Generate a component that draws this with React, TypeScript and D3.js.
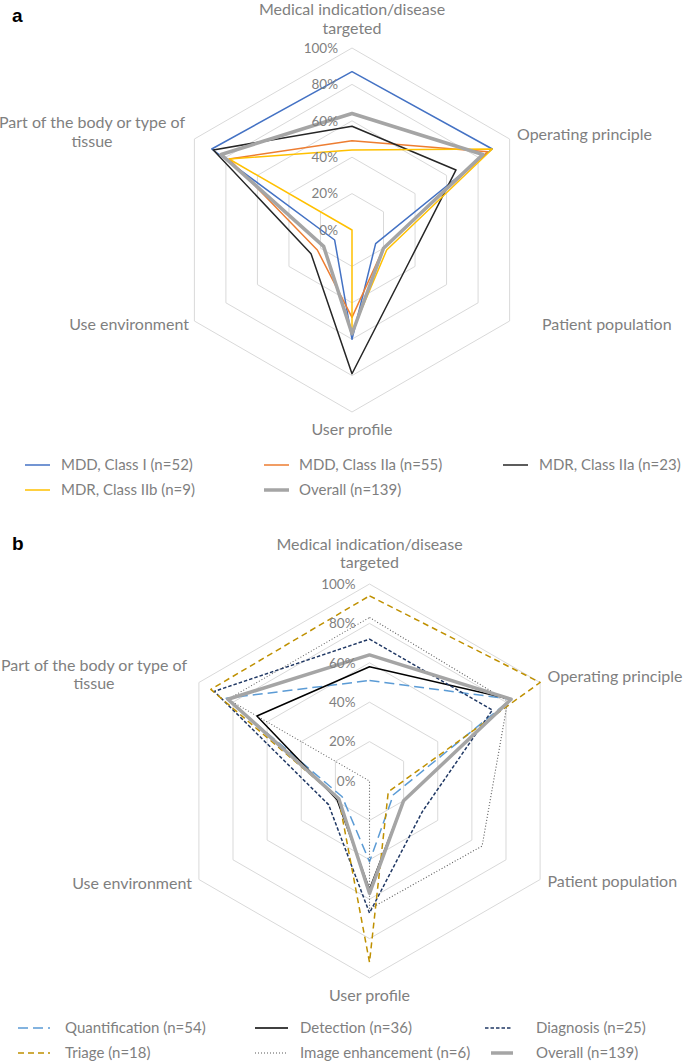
import * as d3 from "d3";

// axes, clockwise from the top
const axisLabels = [
  ["Medical indication/disease", "targeted"],
  ["Operating principle"],
  ["Patient population"],
  ["User profile"],
  ["Use environment"],
  ["Part of the body or type of", "tissue"],
];
const ringTicks = [0, 20, 40, 60, 80, 100];

// panel a — % of devices per axis
const mddClassI = [87, 89, 15, 60, 11, 89];
const mddClassIIa = [49, 86, 20, 48, 22, 78];
const mdrClassIIa = [57, 66, 36, 79, 26, 88];
const mdrClassIIb = [44, 89, 22, 56, 0, 78];
const overall = [64, 83, 20, 57, 18, 83];

// panel b
const quantification = [51, 83, 14, 41, 16, 84];
const detection = [58, 83, 20, 55, 19, 66];
const diagnosis = [72, 72, 31, 67, 24, 91];
const triage = [94, 100, 11, 92, 18, 93];
const imageEnhancement = [83, 81, 66, 65, 0, 83];

const namesA = [
  "MDD, Class I (n=52)",
  "MDD, Class IIa (n=55)",
  "MDR, Class IIa (n=23)",
  "MDR, Class IIb (n=9)",
  "Overall (n=139)",
];
const namesB = [
  "Quantification (n=54)",
  "Detection (n=36)",
  "Diagnosis (n=25)",
  "Triage (n=18)",
  "Image enhancement (n=6)",
  "Overall (n=139)",
];

type Style = { color: string; width: number; dash?: string };
type Series = { name: string; values: number[]; style: Style };

const GRAY_THICK: Style = { color: "#A5A5A5", width: 3.5 };

const seriesA: Series[] = [
  { name: namesA[0], values: mddClassI, style: { color: "#4472C4", width: 1.5 } },
  { name: namesA[1], values: mddClassIIa, style: { color: "#ED7D31", width: 1.5 } },
  { name: namesA[2], values: mdrClassIIa, style: { color: "#262626", width: 1.5 } },
  { name: namesA[3], values: mdrClassIIb, style: { color: "#FFC000", width: 1.5 } },
  { name: namesA[4], values: overall, style: GRAY_THICK },
];

const seriesB: Series[] = [
  { name: namesB[0], values: quantification, style: { color: "#5B9BD5", width: 1.5, dash: "10 5" } },
  { name: namesB[1], values: detection, style: { color: "#000000", width: 1.5 } },
  { name: namesB[2], values: diagnosis, style: { color: "#203864", width: 1.5, dash: "3.5 2" } },
  { name: namesB[3], values: triage, style: { color: "#BF9000", width: 1.5, dash: "6 4" } },
  { name: namesB[4], values: imageEnhancement, style: { color: "#595959", width: 1.1, dash: "1 2" } },
  { name: namesB[5], values: overall, style: GRAY_THICK },
];

const FONT = "Lato, 'Open Sans', sans-serif";
const TEXT = "#7F7F7F";

type LabelPos = { x: number; y: number; anchor: "start" | "middle" | "end" };
type LegendPos = { x0: number; x1: number; tx: number; y: number };

type RadarProps = {
  letter: string;
  letterY: number;
  cx: number;
  cy: number;
  r: number;
  series: Series[];
  labels: LabelPos[];
  lineGap: number;
  legend: LegendPos[];
};

function Radar({ letter, letterY, cx, cy, r, series, labels, lineGap, legend }: RadarProps) {
  const rScale = d3.scaleLinear().domain([0, 100]).range([0, r]);
  const angle = (i: number) => (i * 2 * Math.PI) / axisLabels.length;

  const line = d3
    .lineRadial<number>()
    .angle((_d, i) => angle(i))
    .radius((d) => rScale(d))
    .curve(d3.curveLinearClosed);

  return (
    <g>
      <text x={12} y={letterY} fontFamily="'Liberation Sans', Arial, sans-serif" fontWeight="bold" fontSize={19} fill="#000">
        {letter}
      </text>

      <g transform={`translate(${cx},${cy})`}>
        {/* rings */}
        {ringTicks
          .filter((t) => t > 0)
          .map((t) => (
            <path key={t} d={line(axisLabels.map(() => t)) || ""} fill="none" stroke="#D9D9D9" strokeWidth={1} />
          ))}

        {/* series */}
        {series.map((s) => (
          <path
            key={s.name}
            d={line(s.values) || ""}
            fill="none"
            stroke={s.style.color}
            strokeWidth={s.style.width}
            strokeDasharray={s.style.dash}
            strokeLinejoin="round"
          />
        ))}

        {/* tick labels */}
        {ringTicks.map((t) => (
          <text
            key={t}
            x={-14}
            y={-rScale(t)}
            dy="0.35em"
            textAnchor="end"
            fontFamily={FONT}
            fontSize={13.5}
            fill={TEXT}
          >
            {t}%
          </text>
        ))}
      </g>

      {/* axis labels */}
      {axisLabels.map((lines, i) => (
        <text key={i} textAnchor={labels[i].anchor} fontFamily={FONT} fontSize={16} fill={TEXT}>
          {lines.map((ln, k) => (
            <tspan key={k} x={labels[i].x} y={labels[i].y + k * lineGap}>
              {ln}
            </tspan>
          ))}
        </text>
      ))}

      {/* legend */}
      {series.map((s, i) => {
        const p = legend[i];
        return (
          <g key={s.name}>
            <line
              x1={p.x0}
              x2={p.x1}
              y1={p.y}
              y2={p.y}
              stroke={s.style.color}
              strokeWidth={s.style.width}
              strokeDasharray={s.style.dash}
            />
            <text x={p.tx} y={p.y} dy="0.35em" fontFamily={FONT} fontSize={15} fill={TEXT}>
              {s.name}
            </text>
          </g>
        );
      })}
    </g>
  );
}

export default function App() {
  return (
    <svg
      width={685}
      height={1064}
      viewBox="0 0 685 1064"
      style={{ position: "absolute", left: 0, top: 0, background: "#fff" }}
    >
      <Radar
        letter="a"
        letterY={22}
        cx={352}
        cy={230}
        r={182}
        series={seriesA}
        lineGap={18.5}
        labels={[
          { x: 352, y: 15, anchor: "middle" },
          { x: 517, y: 140, anchor: "start" },
          { x: 542, y: 330, anchor: "start" },
          { x: 352, y: 435, anchor: "middle" },
          { x: 189, y: 330, anchor: "end" },
          { x: 92, y: 128, anchor: "middle" },
        ]}
        legend={[
          { x0: 25, x1: 50, tx: 61, y: 465 },
          { x0: 264, x1: 289, tx: 299, y: 465 },
          { x0: 503, x1: 528, tx: 539, y: 465 },
          { x0: 25, x1: 50, tx: 61, y: 490 },
          { x0: 264, x1: 289, tx: 299, y: 490 },
        ]}
      />
      <Radar
        letter="b"
        letterY={550}
        cx={369.5}
        cy={781}
        r={197}
        series={seriesB}
        lineGap={18}
        labels={[
          { x: 369.5, y: 549.5, anchor: "middle" },
          { x: 547.5, y: 682, anchor: "start" },
          { x: 547.5, y: 887, anchor: "start" },
          { x: 369.5, y: 1001, anchor: "middle" },
          { x: 192, y: 889, anchor: "end" },
          { x: 94, y: 671, anchor: "middle" },
        ]}
        legend={[
          { x0: 18, x1: 50, tx: 65, y: 1028 },
          { x0: 255, x1: 288, tx: 300, y: 1028 },
          { x0: 485, x1: 511, tx: 536, y: 1028 },
          { x0: 18, x1: 50, tx: 65, y: 1053 },
          { x0: 255, x1: 286, tx: 300, y: 1053 },
          { x0: 491, x1: 513, tx: 536, y: 1053 },
        ]}
      />
    </svg>
  );
}
